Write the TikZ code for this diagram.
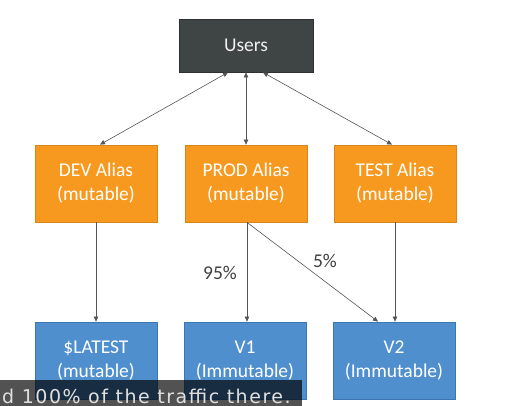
\documentclass[tikz,border=0pt]{standalone}
\usepackage{fontspec}
\setmainfont{Carlito}
\newfontfamily\capfont[LetterSpace=8]{DejaVu Sans}
\usetikzlibrary{arrows.meta}
\definecolor{usersfill}{HTML}{3F4444}
\definecolor{usersdraw}{HTML}{2C3030}
\definecolor{orfill}{HTML}{F7991F}
\definecolor{ordraw}{HTML}{D8861C}
\definecolor{blfill}{HTML}{4F8FCE}
\definecolor{bldraw}{HTML}{3D75B0}
\definecolor{linec}{HTML}{555555}
\definecolor{labc}{HTML}{404040}
\begin{document}
\begin{tikzpicture}[x=1pt,y=-1pt,
  box/.style={minimum width=122pt,minimum height=77pt,inner sep=0pt,line width=0.8pt,
    text=white,font=\fontsize{19.5}{24}\selectfont,align=center},
  userbox/.style={box,fill=usersfill,draw=usersdraw,minimum width=134pt,minimum height=53pt,text=white!94!black},
  aliasbox/.style={box,fill=orfill,draw=ordraw},
  verbox/.style={box,fill=blfill,draw=bldraw},
  conn/.style={draw=linec,line width=0.6pt,-{Triangle[length=5pt,width=4.5pt]}},
  biconn/.style={conn,{Triangle[length=5pt,width=4.5pt]}-{Triangle[length=5pt,width=4.5pt]}},
  pct/.style={text=labc,font=\fontsize{19.5}{22}\selectfont}]
\useasboundingbox (0,0) rectangle (527,406);
\fill[white] (0,0) rectangle (527,406);
\node[userbox] (users) at (246,45.5) {Users};
\node[aliasbox] (dev) at (96,183.5) {DEV Alias\\(mutable)};
\node[aliasbox] (prod) at (246,183.5) {PROD Alias\\(mutable)};
\node[aliasbox] (test) at (395,183.5) {TEST Alias\\(mutable)};
\node[verbox] (latest) at (96,360.5) {\$LATEST\\(mutable)};
\node[verbox] (v1) at (245,360.5) {V1\\(Immutable)};
\node[verbox] (v2) at (394,360.5) {V2\\(Immutable)};
\draw[biconn] ([xshift=-18pt]users.south) -- ([xshift=4pt]dev.north);
\draw[biconn] (users.south) -- (prod.north);
\draw[biconn] ([xshift=17pt]users.south) -- ([xshift=-3pt]test.north);
\draw[conn] (dev.south) -- (dev.south |- latest.north);
\draw[conn] ([xshift=1pt]prod.south) -- ([xshift=1pt]prod.south |- v1.north);
\draw[conn] ([xshift=1pt]prod.south) -- ([xshift=-16pt]v2.north);
\draw[conn] (test.south) -- (test.south |- v2.north);
\node[pct] (p95) at (220,273) {95\%};
\node[pct] (p5) at (325,261) {5\%};
\fill[black,opacity=0.68] (0,380) rectangle (302,406);
\node[anchor=base west,inner sep=0pt,text=white!88!black,font=\capfont\fontsize{19}{21}\selectfont] (cap) at (2,403) {d 100\% of the traffic there.};
\end{tikzpicture}
\end{document}
